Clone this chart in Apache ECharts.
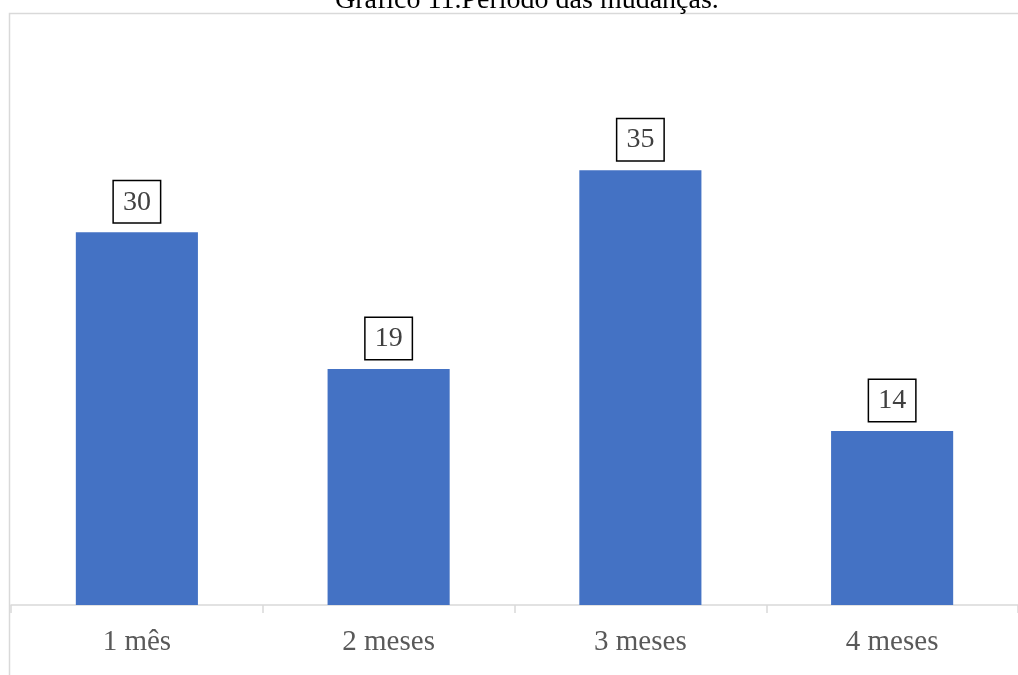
<!DOCTYPE html>
<html>
<head>
<meta charset="utf-8">
<script src="https://cdn.jsdelivr.net/npm/echarts@6/dist/echarts.min.js"></script>
<style>
html,body{margin:0;padding:0;background:#fff;}
#chart{width:1018px;height:675px;}
</style>
</head>
<body>
<div id="chart"></div>
<script>
// Período das mudanças
const categories = ['1 mês', '2 meses', '3 meses', '4 meses'];
const counts = [30, 19, 35, 14];
const titleText = 'Gráfico 11.Período das mudanças.';

const serif = '"Liberation Serif", "Times New Roman", serif';
const chart = echarts.init(document.getElementById('chart'));

chart.setOption({
  animation: false,
  backgroundColor: '#ffffff',
  title: {
    text: titleText,
    left: 330,
    top: -18,
    textStyle: { fontFamily: serif, fontSize: 28, fontWeight: 'normal', color: '#000000' }
  },
  graphic: [{
    type: 'rect',
    left: 7,
    top: 11,
    shape: { width: 1030, height: 700 },
    style: { fill: 'none', stroke: '#d9d9d9', lineWidth: 1.5 },
    silent: true,
    z: -1
  }],
  grid: { left: 11, right: -3, top: 108, bottom: 70, containLabel: false },
  xAxis: {
    type: 'category',
    data: categories,
    axisLine: { show: true, lineStyle: { color: '#d9d9d9', width: 1.5 } },
    axisTick: { show: true, length: 8, lineStyle: { color: '#d9d9d9', width: 1.5 } },
    axisLabel: { fontFamily: serif, fontSize: 29, color: '#595959', margin: 23 }
  },
  yAxis: {
    type: 'value',
    min: 0,
    max: 40,
    show: false,
    splitLine: { show: false }
  },
  series: [{
    type: 'bar',
    data: counts,
    barWidth: '48.5%',
    itemStyle: { color: '#4472c4' },
    label: {
      show: true,
      position: 'top',
      distance: 10,
      fontFamily: serif,
      fontSize: 28,
      lineHeight: 28,
      color: '#404040',
      borderColor: '#000000',
      borderWidth: 1.5,
      padding: [7, 9, 6, 9],
      backgroundColor: '#ffffff'
    }
  }]
});
</script>
</body>
</html>
